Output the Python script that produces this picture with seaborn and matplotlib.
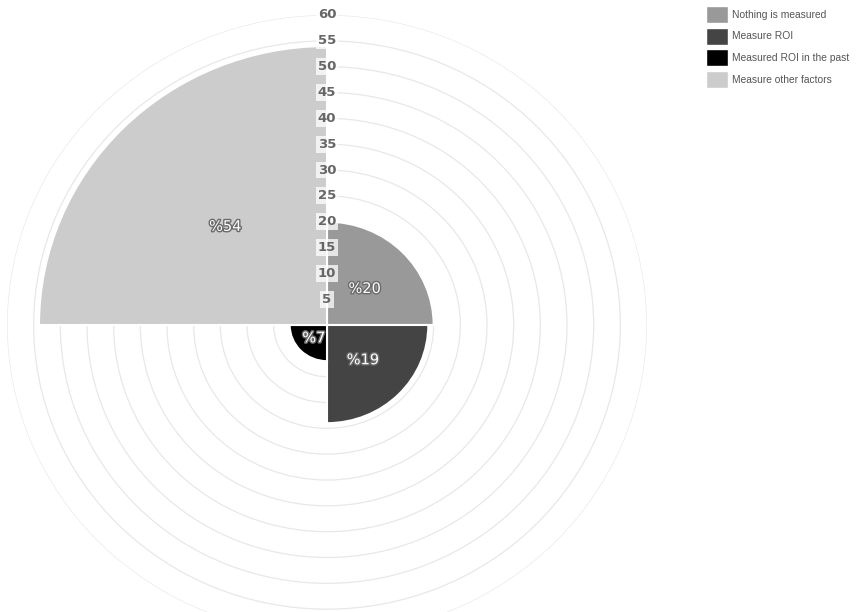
import numpy as np
import matplotlib
matplotlib.use("Agg")
import matplotlib.pyplot as plt
import matplotlib.patheffects as pe
import seaborn as sns

# Data
categories = ["Nothing is measured", "Measure ROI", "Measured ROI in the past", "Measure other factors"]
values = [20, 19, 7, 54]
labels = ["%20", "%19", "%7", "%54"]
colors = ["#999999", "#444444", "#000000", "#cccccc"]
r_ticks = [5, 10, 15, 20, 25, 30, 35, 40, 45, 50, 55, 60]

sns.set_theme(style="white")
plt.rcParams["font.family"] = ["Liberation Sans", "DejaVu Sans"]
palette = sns.color_palette(colors)

fig = plt.figure(figsize=(8.56, 6.12), dpi=100)
# chart is slightly wider than tall in the reference, so let the polar axes stretch
ax = fig.add_axes([7 / 856, -23 / 612, 640 / 856, 620 / 612], projection="polar")
ax.set_aspect("auto")
ax.set_theta_zero_location("N")
ax.set_theta_direction(-1)

# each category gets one quarter of the circle
theta = np.arange(len(values)) * (np.pi / 2) + np.pi / 4
bars = ax.bar(theta, values, width=np.pi / 2, color=palette,
              edgecolor="white", linewidth=1.5, zorder=2)

ax.set_ylim(0, 60)
ax.set_yticks(r_ticks)
ax.set_yticklabels([])
ax.set_xticks([])
ax.grid(True, color="#e8e8e8", linewidth=0.9)
ax.set_axisbelow(True)
ax.spines["polar"].set_visible(False)
ax.set_facecolor("white")

# radial tick labels with a white backdrop, on top of the bars
for r in r_ticks:
    ax.text(0, r, str(r), ha="center", va="center", fontsize=9.5,
            family="DejaVu Sans", fontweight="bold", color="#666666", zorder=5,
            bbox=dict(boxstyle="square,pad=0.15", fc=(1, 1, 1, 0.75), ec="none"))

# value labels in the middle of each segment
for t, v, lab in zip(theta, values, labels):
    ax.text(t, v / 2, lab, ha="center", va="center", fontsize=10.5,
            family="DejaVu Sans", color="white", zorder=6,
            path_effects=[pe.withStroke(linewidth=2, foreground="#6a6a6a")])

handles = [plt.Rectangle((0, 0), 1, 1, fc=c, ec="white") for c in colors]
fig.legend(handles, categories, loc="upper left",
           bbox_to_anchor=(701 / 856, 1 - 1 / 612), frameon=False,
           fontsize=7.4, handlelength=2.14, handleheight=2.16,
           handletextpad=0.4, labelspacing=0.45, borderpad=0,
           labelcolor="#555555")

fig.savefig("out.png", dpi=100)
